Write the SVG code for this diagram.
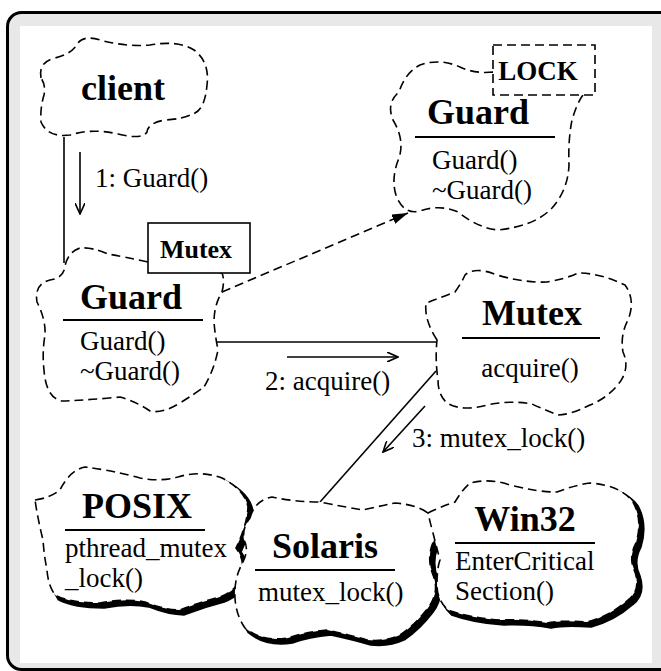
<svg xmlns="http://www.w3.org/2000/svg" width="661" height="671" viewBox="0 0 661 671">
<defs>
<style>
.cloud{fill:#fff;stroke:#000;stroke-width:1.6;stroke-dasharray:9 5}
.shadow{fill:#000;stroke:#000;stroke-width:3.5}
.title{font-weight:bold;font-size:36px;text-anchor:middle}
.op{font-size:27px}
.tag{font-weight:bold;font-size:27px;text-anchor:middle}
.sep{stroke:#000;stroke-width:2}
.ln{stroke:#000;stroke-width:1.6;fill:none}
</style>
<marker id="open" viewBox="0 0 12 10" refX="11" refY="5" markerWidth="12" markerHeight="10" markerUnits="userSpaceOnUse" orient="auto">
<path d="M0,0 L11,5 L0,10" fill="none" stroke="#000" stroke-width="1.6"/>
</marker>
<marker id="filled" viewBox="0 0 16 10" refX="16" refY="5" markerWidth="16" markerHeight="10" markerUnits="userSpaceOnUse" orient="auto">
<path d="M0,0 L16,5 L0,10 Z" fill="#000"/>
</marker>
</defs>
<g id="frame">
<rect x="7.5" y="12.5" width="680" height="657" rx="14" fill="#e8e8e8" stroke="#000" stroke-width="3"/>
<rect x="20" y="26" width="632" height="637" fill="#fff"/>
</g>
<g font-family="Liberation Serif, Times New Roman, serif">
<g id="connectors">
<line class="ln" x1="64" y1="137" x2="64" y2="263"/>
<line class="ln" x1="80" y1="152" x2="80" y2="214" marker-end="url(#open)"/>
<line class="ln" x1="222" y1="292" x2="408" y2="213" stroke-dasharray="9 5" marker-end="url(#filled)"/>
<line class="ln" x1="199" y1="342" x2="437" y2="342"/>
<circle cx="191.5" cy="342" r="7.5" fill="#fff" stroke="#000" stroke-width="1.6"/>
<line class="ln" x1="287" y1="357" x2="398" y2="357" marker-end="url(#open)"/>
<line class="ln" x1="436" y1="371" x2="320" y2="502"/>
<line class="ln" x1="425" y1="406" x2="383" y2="452" marker-end="url(#open)"/>
<text class="op" x="95" y="187">1: Guard()</text>
<text class="op" x="265" y="390">2: acquire()</text>
<text class="op" x="412" y="447">3: mutex_lock()</text>
</g>
<g id="client">
<path class="cloud" d="M41,78 Q38,62 55,58 Q72,54 78,43 Q84,35 100,40 Q125,47 150,45 Q178,40 194,50 Q210,62 207,85 Q205,108 195,113 Q184,119 165,120 Q148,123 147,132 Q142,140 118,134 Q92,128 70,135 Q48,138 41,122 Q40,108 44,95 Q46,85 41,78 Z"/>
<text class="title" x="123" y="100">client</text>
</g>
<g id="guard-lock">
<path class="cloud" d="M493,72 Q475,74 460,67 Q440,58 420,65 Q405,73 399,92 Q386,103 393,120 Q405,140 399,158 Q390,180 397,198 Q405,215 420,211 Q440,204 458,212 Q478,228 498,230 Q535,226 552,208 Q568,190 569,165 Q568,140 572,120 Q577,103 583,95 Z"/>
<rect x="493" y="45" width="102" height="50" fill="#fff" stroke="#000" stroke-width="1.6" stroke-dasharray="9 5"/>
<text class="tag" x="538" y="80">LOCK</text>
<text class="title" x="478" y="124">Guard</text>
<line class="sep" x1="415" y1="137" x2="555" y2="137"/>
<text class="op" x="432" y="169">Guard()</text>
<text class="op" x="432" y="199">~Guard()</text>
</g>
<g id="guard-mutex">
<path class="cloud" d="M148,262 Q125,257 108,254 Q92,247 80,248 Q68,252 65,266 Q64,278 50,280 Q34,284 37,302 Q46,320 45,335 Q42,352 44,370 Q46,398 62,401 Q90,400 120,397 Q137,402 150,411 Q162,414 180,403 Q196,393 204,387 Q214,370 218,350 Q215,335 214,322 Q214,305 222,292 Q225,280 222,273 Z"/>
<rect x="148" y="223" width="102" height="50" fill="#fff" stroke="#000" stroke-width="1.6"/>
<text class="tag" x="196" y="258" style="font-size:26px">Mutex</text>
<text class="title" x="131" y="309">Guard</text>
<line class="sep" x1="63" y1="320" x2="203" y2="320"/>
<text class="op" x="80" y="350">Guard()</text>
<text class="op" x="80" y="380">~Guard()</text>
</g>
<g id="mutex">
<path class="cloud" d="M437,340 Q424,320 426,303 Q440,298 455,292 Q462,282 465,275 Q475,266 497,275 Q525,283 547,282 Q565,279 578,273 Q600,273 625,285 Q636,300 628,320 Q620,335 623,352 Q630,368 620,382 Q608,398 590,405 Q570,415 558,415 Q545,410 532,404 Q510,400 487,405 Q462,412 447,403 Q438,395 438,380 Q435,360 437,340 Z"/>
<text class="title" x="532" y="325">Mutex</text>
<line class="sep" x1="462" y1="338" x2="600" y2="338"/>
<text class="op" x="530" y="377" text-anchor="middle">acquire()</text>
</g>
<g id="posix">
<path class="shadow" transform="translate(4,4)" d="M35,500 Q50,498 60,490 Q70,470 85,467 Q110,470 140,478 Q160,482 178,477 Q200,470 222,478 Q245,490 248,507 Q247,525 236,548 Q245,560 242,575 Q238,590 220,597 Q200,602 180,610 Q165,610 145,602 Q125,598 100,603 Q70,603 55,595 Q48,585 47,570 Q44,555 43,540 Q38,520 35,500 Z"/>
<path class="cloud" d="M35,500 Q50,498 60,490 Q70,470 85,467 Q110,470 140,478 Q160,482 178,477 Q200,470 222,478 Q245,490 248,507 Q247,525 236,548 Q245,560 242,575 Q238,590 220,597 Q200,602 180,610 Q165,610 145,602 Q125,598 100,603 Q70,603 55,595 Q48,585 47,570 Q44,555 43,540 Q38,520 35,500 Z"/>
<text class="title" x="137" y="518">POSIX</text>
<line class="sep" x1="65" y1="530" x2="205" y2="530"/>
<text class="op" x="65" y="557">pthread_mutex</text>
<text class="op" x="65" y="587">_lock()</text>
</g>
<g id="solaris">
<path class="shadow" transform="translate(4,4)" d="M250,518 Q255,500 272,497 Q295,502 320,502 Q345,507 363,510 Q380,506 395,503 Q420,505 430,515 Q440,528 432,545 Q427,560 433,575 Q440,592 428,608 Q415,625 400,635 Q385,642 367,640 Q350,635 327,630 Q305,632 288,638 Q262,642 245,628 Q236,615 235,598 Q234,580 241,566 Q250,550 244,540 Q242,528 250,518 Z"/>
<path class="cloud" d="M250,518 Q255,500 272,497 Q295,502 320,502 Q345,507 363,510 Q380,506 395,503 Q420,505 430,515 Q440,528 432,545 Q427,560 433,575 Q440,592 428,608 Q415,625 400,635 Q385,642 367,640 Q350,635 327,630 Q305,632 288,638 Q262,642 245,628 Q236,615 235,598 Q234,580 241,566 Q250,550 244,540 Q242,528 250,518 Z"/>
<text class="title" x="325" y="558">Solaris</text>
<line class="sep" x1="255" y1="570" x2="395" y2="570"/>
<text class="op" x="258" y="601">mutex_lock()</text>
</g>
<g id="win32">
<path class="shadow" transform="translate(4,4)" d="M428,513 Q440,507 455,502 Q462,490 470,483 Q490,478 510,485 Q537,492 557,492 Q575,485 590,483 Q620,485 633,502 Q643,520 636,543 Q628,558 635,572 Q641,590 628,600 Q610,616 587,622 Q560,620 547,623 Q525,619 500,620 Q470,618 448,610 Q437,600 437,585 Q437,568 440,560 Q436,545 433,533 Q430,522 428,513 Z"/>
<path class="cloud" d="M428,513 Q440,507 455,502 Q462,490 470,483 Q490,478 510,485 Q537,492 557,492 Q575,485 590,483 Q620,485 633,502 Q643,520 636,543 Q628,558 635,572 Q641,590 628,600 Q610,616 587,622 Q560,620 547,623 Q525,619 500,620 Q470,618 448,610 Q437,600 437,585 Q437,568 440,560 Q436,545 433,533 Q430,522 428,513 Z"/>
<text class="title" x="525" y="531">Win32</text>
<line class="sep" x1="455" y1="543" x2="595" y2="543"/>
<text class="op" x="455" y="570">EnterCritical</text>
<text class="op" x="455" y="600">Section()</text>
</g>
</g>
</svg>
